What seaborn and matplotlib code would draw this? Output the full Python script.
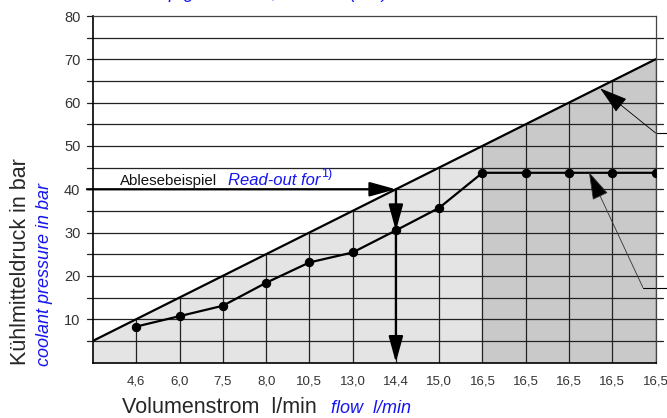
import numpy as np
import matplotlib
matplotlib.use("Agg")
import matplotlib.pyplot as plt
import seaborn as sns

# ----------------------------
# Data
# ----------------------------
flow_labels = ["4,6", "6,0", "7,5", "8,0", "10,5", "13,0", "14,4", "15,0",
               "16,5", "16,5", "16,5", "16,5", "16,5"]
pressure = [8.3, 10.7, 13.1, 18.4, 23.1, 25.4, 30.5, 35.7,
            43.8, 43.8, 43.8, 43.8, 43.8]
# upper limit line, one value per grid position 0..13
limit_pressure = [5, 10, 15, 20, 25, 30, 35, 40, 45, 50, 55, 60, 65, 70]
y_ticks = [10, 20, 30, 40, 50, 60, 70, 80]
grid_levels = list(range(5, 80, 5))
dark_from = 9          # index where the dark shaded zone starts
readout_index = 7      # 14,4 l/min
readout_pressure = 40

# ----------------------------
# Style
# ----------------------------
sns.set_style("white")
plt.rcParams["font.family"] = ["Liberation Sans", "DejaVu Sans"]

W, H = 667, 418
fig = plt.figure(figsize=(W / 100, H / 100), dpi=100)
ax = fig.add_axes([93 / W, 55.5 / H, 562.5 / W, 346.5 / H])

def px(x, y):
    return x / W, 1 - y / H

LIGHT = "#e4e4e4"
DARK = "#c9c9c9"
GRID = "#222222"
BLUE = "#1515f0"

pos = np.arange(1, len(flow_labels) + 1)
lim_pos = np.arange(len(limit_pressure))

# shaded zones under the limit line
ax.fill_between(lim_pos[:dark_from + 1], 0, limit_pressure[:dark_from + 1],
                color=LIGHT, lw=0, zorder=0.5)
ax.fill_between(lim_pos[dark_from:], 0, limit_pressure[dark_from:],
                color=DARK, lw=0, zorder=0.5)

# horizontal lines (stick out a bit on both sides)
for lv in grid_levels:
    ax.plot([-0.14, 13.17], [lv, lv], color=GRID, lw=0.9, clip_on=False, zorder=1)
ax.plot([-0.14, 0], [80, 80], color=GRID, lw=0.9, clip_on=False, zorder=1)

# vertical lines up to the limit line
for i in pos:
    ax.plot([i, i], [0, limit_pressure[i]], color=GRID, lw=0.9, zorder=1)

# limit line
sns.lineplot(x=lim_pos, y=limit_pressure, color="black", lw=1.6, ax=ax, zorder=3)

# measured curve
sns.lineplot(x=pos, y=pressure, color="black", lw=1.6, marker="o",
             markersize=6, markeredgecolor="black", ax=ax, zorder=4)

# read-out example arrows
head = "-|>,head_length=0.8,head_width=0.22"
ax.annotate("", xy=(readout_index, readout_pressure), xytext=(-0.14, readout_pressure),
            arrowprops=dict(arrowstyle=head, color="black", lw=1.6,
                            mutation_scale=20, shrinkA=0, shrinkB=0), zorder=5)
ax.annotate("", xy=(readout_index, 30.4), xytext=(readout_index, readout_pressure),
            arrowprops=dict(arrowstyle=head, color="black", lw=1.6,
                            mutation_scale=20, shrinkA=0, shrinkB=0), zorder=5)
ax.annotate("", xy=(readout_index, 0), xytext=(readout_index, 30.4),
            arrowprops=dict(arrowstyle=head, color="black", lw=1.6,
                            mutation_scale=20, shrinkA=0, shrinkB=0), zorder=5)

# callouts on the right
thin = "-|>,head_length=0.9,head_width=0.27"
ax.annotate("", xy=(11.72, 63.3), xytext=(13.0, 53.0),
            arrowprops=dict(arrowstyle=thin, color="black", lw=0.6,
                            mutation_scale=20, shrinkA=0, shrinkB=0,
                            fc="black"), zorder=5)
ax.plot([13.0, 13.27], [53.0, 53.0], color="black", lw=0.8, clip_on=False)
ax.annotate("", xy=(11.46, 44.0), xytext=(12.71, 17.3),
            arrowprops=dict(arrowstyle=thin, color="#333333", lw=0.6,
                            mutation_scale=20, shrinkA=0, shrinkB=0,
                            fc="black"), zorder=5)
ax.plot([12.71, 13.27], [17.3, 17.3], color="black", lw=0.8, clip_on=False)

# ----------------------------
# Axes
# ----------------------------
ax.set_xlim(0, 13)
ax.set_ylim(0, 80)
ax.set_xticks(pos)
ax.set_xticklabels(flow_labels)
ax.set_yticks(y_ticks)
ax.tick_params(axis="x", length=0, pad=9, labelsize=9.5, labelcolor="#333333")
ax.tick_params(axis="y", length=0, pad=9, labelsize=10.5, labelcolor="#333333")
for side in ["left", "bottom"]:
    ax.spines[side].set_color("black")
    ax.spines[side].set_linewidth(1.2)
for side in ["top", "right"]:
    ax.spines[side].set_color("#444444")
    ax.spines[side].set_linewidth(0.9)
ax.set_facecolor("white")

# ----------------------------
# Texts
# ----------------------------
fig.text(*px(21, 262), "Kühlmitteldruck in bar", rotation=90, fontsize=15.5,
         ha="center", va="center")
fig.text(*px(45, 274), "coolant pressure in bar", rotation=90, fontsize=13,
         style="italic", color=BLUE, ha="center", va="center")
fig.text(*px(122, 413), "Volumenstrom  l/min", fontsize=15.5, va="baseline")
fig.text(*px(331, 413), "flow  l/min", fontsize=13, style="italic",
         color=BLUE, va="baseline")
fig.text(*px(120, 185), "Ablesebeispiel", fontsize=10.8, va="baseline",
         color="#111111")
fig.text(*px(228, 185), "Read-out for", fontsize=12, style="italic",
         color=BLUE, va="baseline")
fig.text(*px(321, 177), "1)", fontsize=9, color=BLUE, va="baseline")
# heading above the plot, cut off by the top edge like in the original
fig.text(*px(110, -1.5), "Max. top grade level, nominal (bar)", fontsize=13,
         style="italic", color=BLUE, va="baseline")

fig.savefig("out.png", dpi=100)
